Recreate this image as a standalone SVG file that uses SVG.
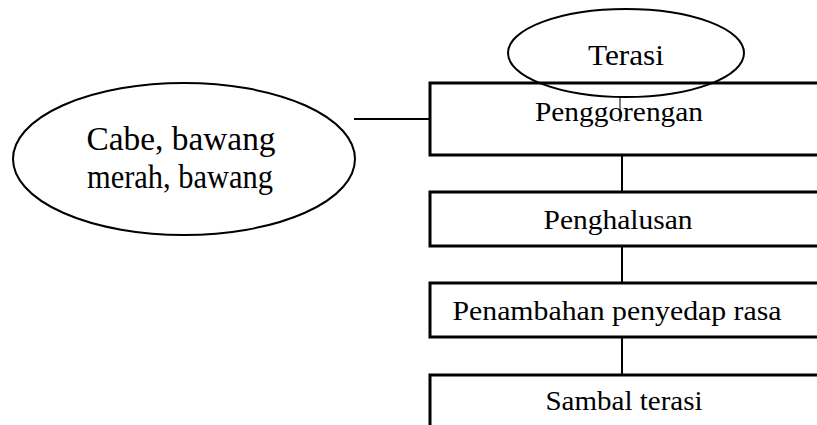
<svg xmlns="http://www.w3.org/2000/svg" width="817" height="425" viewBox="0 0 817 425">
<style>
.box{fill:#fff;stroke:#000;stroke-width:3}
.ell{fill:none;stroke:#000;stroke-width:2}
.ln{stroke:#000;stroke-width:2;fill:none}
.t{font-family:"Liberation Serif","Times New Roman",serif;fill:#000;text-anchor:middle}
.bt{font-size:27px}
</style>
<rect width="817" height="425" fill="#fff"/>
<g id="node-penggorengan">
<rect class="box" x="430" y="83" width="420" height="72"/>
<text class="t bt" x="619" y="121" textLength="168" lengthAdjust="spacingAndGlyphs">Penggorengan</text>
</g>
<g id="node-terasi">
<ellipse class="ell" cx="626" cy="53" rx="118" ry="44"/>
<text class="t" x="626" y="65" font-size="30" textLength="76" lengthAdjust="spacingAndGlyphs">Terasi</text>
</g>
<g id="node-bahan">
<ellipse class="ell" cx="184" cy="159" rx="171" ry="76"/>
<text class="t" x="181" y="150" font-size="33" textLength="189" lengthAdjust="spacingAndGlyphs">Cabe, bawang</text>
<text class="t" x="180" y="188" font-size="33" textLength="186" lengthAdjust="spacingAndGlyphs">merah, bawang</text>
</g>
<g id="node-penghalusan">
<rect class="box" x="430" y="192" width="420" height="54"/>
<text class="t bt" x="618" y="229" textLength="149" lengthAdjust="spacingAndGlyphs">Penghalusan</text>
</g>
<g id="node-penambahan">
<rect class="box" x="430" y="283" width="420" height="54"/>
<text class="t bt" x="617" y="320" textLength="329" lengthAdjust="spacingAndGlyphs">Penambahan penyedap rasa</text>
</g>
<g id="node-sambal">
<rect class="box" x="430" y="375" width="420" height="80"/>
<text class="t bt" x="624" y="410" textLength="157" lengthAdjust="spacingAndGlyphs">Sambal terasi</text>
</g>
<g id="connectors">
<line class="ln" x1="354" y1="119" x2="430" y2="119"/>
<line class="ln" x1="620" y1="97" x2="620" y2="122" style="stroke-width:1"/>
<line class="ln" x1="622" y1="155" x2="622" y2="192"/>
<line class="ln" x1="622" y1="246" x2="622" y2="283"/>
<line class="ln" x1="622" y1="337" x2="622" y2="375"/>
</g>
</svg>
